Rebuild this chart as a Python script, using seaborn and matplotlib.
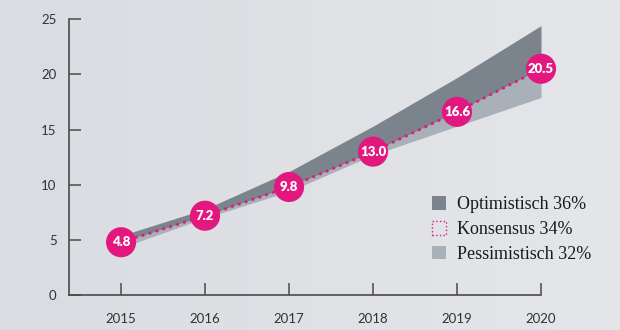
import numpy as np
import pandas as pd
import matplotlib
matplotlib.use("Agg")
import matplotlib.pyplot as plt
from matplotlib.patches import Patch
import seaborn as sns

# Market forecast data
years = [2015, 2016, 2017, 2018, 2019, 2020]
konsensus = [4.8, 7.2, 9.8, 13.0, 16.6, 20.5]
optimistisch = [5.4, 7.8, 11.2, 15.3, 19.7, 24.4]
pessimistisch = [4.3, 7.0, 9.4, 12.7, 15.3, 17.9]
legend_labels = ["Optimistisch 36%", "Konsensus 34%", "Pessimistisch 32%"]
y_ticks = [0, 5, 10, 15, 20, 25]

df = pd.DataFrame({"Jahr": years, "Konsensus": konsensus,
                   "Optimistisch": optimistisch, "Pessimistisch": pessimistisch})

sns.set_theme(style="ticks")
plt.rcParams["font.family"] = ["Lato", "DejaVu Sans"]

PINK = "#e2187f"
DARK = "#7b838c"
LIGHT = "#a9b0b8"
AXIS = "#4a4a4a"

fig = plt.figure(figsize=(6.2, 3.3), dpi=100)
fig.patch.set_facecolor("#dcdfe3")

# soft horizontal background gradient
bg = fig.add_axes([0, 0, 1, 1], zorder=-10)
grad = np.linspace(0, 1, 256)[None, :]
bg.imshow(grad, aspect="auto", extent=[0, 1, 0, 1],
          cmap=matplotlib.colors.LinearSegmentedColormap.from_list(
              "bg", ["#d9dce1", "#dfe1e5", "#e4e6e9"]))
bg.axis("off")

ax = fig.add_axes([0.1113, 0.1052, 0.7613, 0.8372])
ax.set_facecolor("none")

ax.fill_between(df["Jahr"], df["Konsensus"], df["Optimistisch"],
                color=DARK, linewidth=0, zorder=1)
ax.fill_between(df["Jahr"], df["Pessimistisch"], df["Konsensus"],
                color=LIGHT, linewidth=0, zorder=1)

sns.lineplot(data=df, x="Jahr", y="Konsensus", ax=ax, color=PINK,
             linestyle=(0, (1, 1.6)), linewidth=2.0, zorder=2)
sns.scatterplot(data=df, x="Jahr", y="Konsensus", ax=ax, color=PINK,
                s=470, edgecolor="none", zorder=3, clip_on=False)

for x, v in zip(years, konsensus):
    ax.text(x, v, f"{v:.1f}", ha="center", va="center", color="white",
            fontsize=9.5, fontweight="heavy", zorder=4, clip_on=False)

ax.set_xlim(2014.38, 2020)
ax.set_ylim(0, 25)
ax.set_xticks(years)
ax.set_xticklabels([str(y) for y in years])
ax.set_yticks(y_ticks)
ax.set_xlabel("")
ax.set_ylabel("")

sns.despine(ax=ax)
for s in ("left", "bottom"):
    ax.spines[s].set_color(AXIS)
    ax.spines[s].set_linewidth(1.2)
ax.tick_params(axis="both", direction="in", length=8.5, width=1.1,
               color=AXIS, labelsize=9.5, labelcolor="#333333")
ax.tick_params(axis="y", pad=9)
ax.tick_params(axis="x", pad=13)

handles = [Patch(facecolor=DARK, edgecolor="none"),
           Patch(facecolor="none", edgecolor=PINK, linestyle=":", linewidth=1.0),
           Patch(facecolor=LIGHT, edgecolor="none")]
leg = fig.legend(handles, legend_labels, loc="upper left",
                 bbox_to_anchor=(0.685, 0.428), frameon=False,
                 prop={"family": "Liberation Serif", "size": 13},
                 handlelength=0.8, handleheight=0.8, handletextpad=0.6,
                 labelspacing=0.42, borderaxespad=0)
for t in leg.get_texts():
    t.set_color("#1a1a1a")

fig.savefig("out.png", dpi=100, facecolor=fig.get_facecolor())
